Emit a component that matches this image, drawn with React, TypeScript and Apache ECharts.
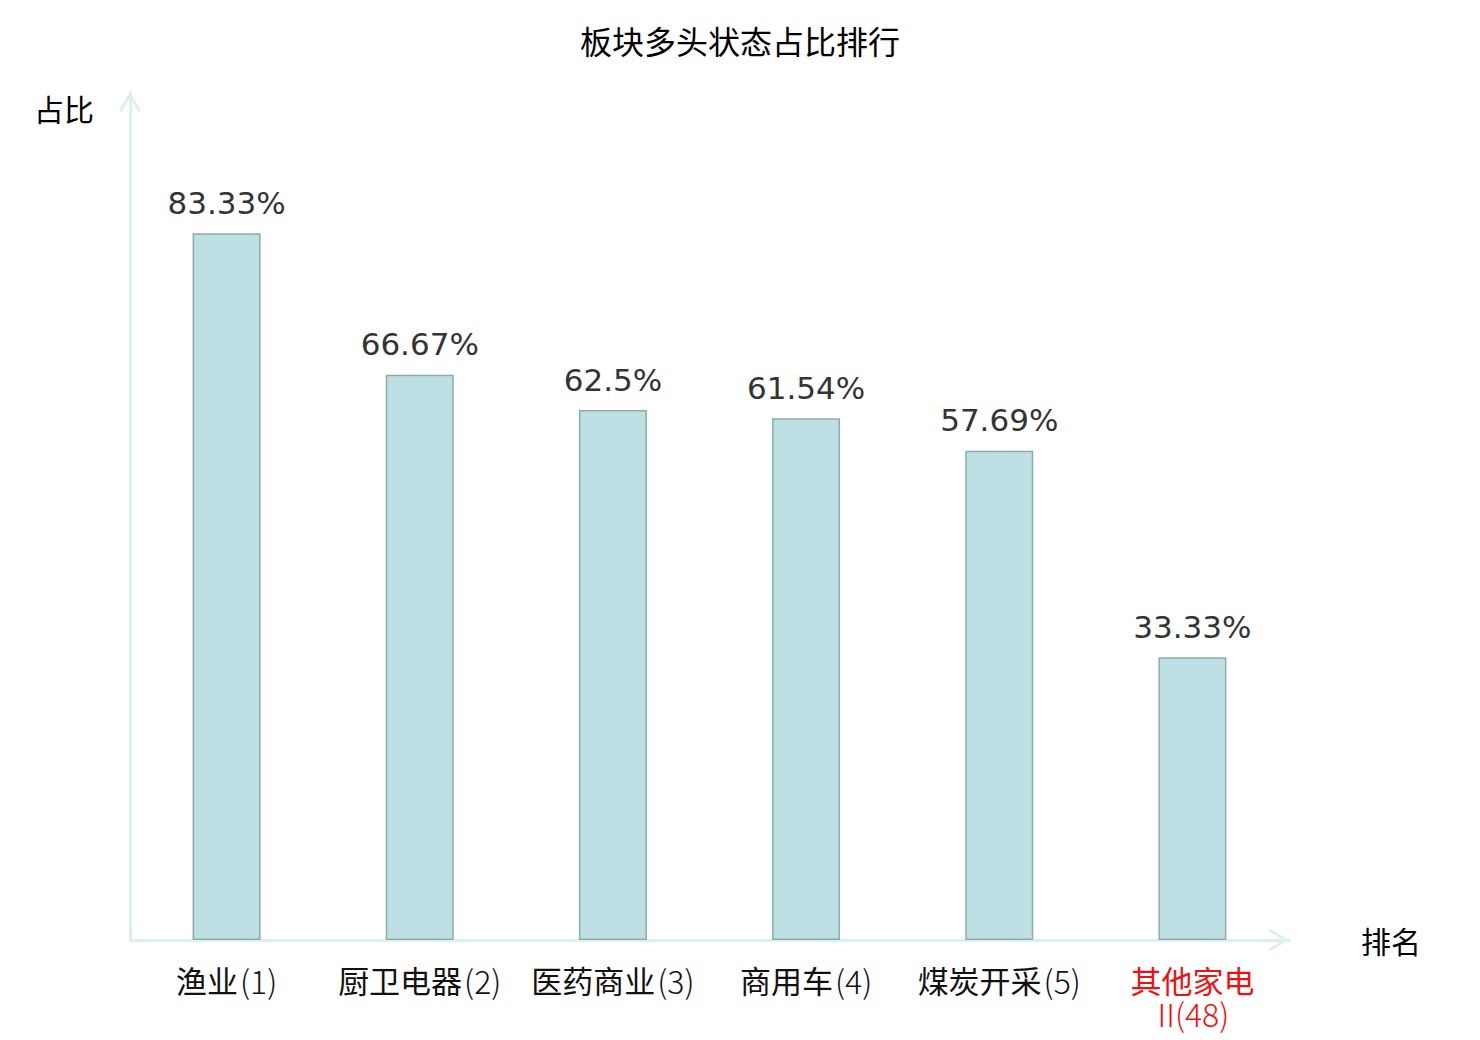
import React, { useEffect, useRef } from "react";
import * as echarts from "echarts";

const categories = ["渔业", "厨卫电器", "医药商业", "商用车", "煤炭开采", "其他家电II"];
const ranks = [1, 2, 3, 4, 5, 48];
const values = [83.33, 66.67, 62.5, 61.54, 57.69, 33.33];
const highlightIndex = 5;
const titleText = "板块多头状态占比排行";
const yName = "占比";
const xName = "排名";

const axisColor = "#dcf1ee";
const chevron = "path://M0,18.5 L11,0 L22,18.5 L19.5,20 L11,5.5 L2.5,20 Z";

function richLabel(name: string, rank: number): string {
  const head = name.length > 5 ? name.slice(0, 4) : name;
  const tail = name.length > 5 ? name.slice(4) : "";
  const rankText = tail + "(" + rank + ")";
  if (tail) return "{n|" + head + "}\n{r|" + rankText + "}";
  return "{n|" + head + "}{r|" + rankText + "}";
}

export default function App() {
  const ref = useRef<HTMLDivElement>(null);
  useEffect(() => {
    if (!ref.current) return;
    const chart = echarts.init(ref.current, null, { renderer: "svg" });
    const cjk = "'Noto Sans CJK SC', sans-serif";
    chart.setOption({
      animation: false,
      backgroundColor: "#ffffff",
      title: {
        text: titleText,
        left: "center",
        top: 24,
        padding: 0,
        textStyle: { fontSize: 32, fontWeight: "normal", color: "#000", fontFamily: cjk, lineHeight: 32 },
      },
      grid: { left: 130, right: 191, top: 92, bottom: 100, containLabel: false },
      xAxis: {
        type: "category",
        data: categories.map((c, i) => ({
          value: c,
          textStyle: i === highlightIndex ? { color: "#ee1111" } : undefined,
        })),
        name: xName,
        nameLocation: "end",
        nameGap: 72,
        nameTextStyle: { fontSize: 30, color: "#000", fontFamily: cjk, verticalAlign: "middle" },
        axisLine: {
          show: true,
          lineStyle: { color: axisColor, width: 3 },
          symbol: ["none", chevron],
          symbolSize: [22, 20],
          symbolOffset: [0, -10],
        },
        axisTick: { show: false },
        axisLabel: {
          margin: 23,
          fontSize: 31,
          lineHeight: 33,
          color: "#111",
          fontFamily: cjk,
          interval: 0,
          formatter: (name: string) => {
            const idx = categories.indexOf(name);
            return richLabel(name, ranks[idx]);
          },
          rich: {
            n: { fontSize: 31, lineHeight: 33, fontFamily: cjk, fontWeight: "normal" },
            r: { fontSize: 32, lineHeight: 33, fontFamily: cjk, fontWeight: 300, padding: [0, 0, 0, 2] },
          },
        },
        splitLine: { show: false },
      },
      yAxis: {
        type: "value",
        min: 0,
        max: 100,
        name: yName,
        nameLocation: "end",
        nameGap: -16,
        nameTextStyle: {
          fontSize: 30,
          color: "#000",
          fontFamily: cjk,
          align: "right",
          verticalAlign: "middle",
          padding: [0, 36, 0, 0],
        },
        axisLine: {
          show: true,
          lineStyle: { color: axisColor, width: 3 },
          symbol: ["none", chevron],
          symbolSize: [22, 20],
          symbolOffset: [0, -10],
        },
        axisTick: { show: false },
        axisLabel: { show: false },
        splitLine: { show: false },
      },
      series: [
        {
          type: "bar",
          data: values,
          barWidth: 68,
          itemStyle: { color: "#bce0e3", borderColor: "#8fabad", borderWidth: 1.5 },
          label: {
            show: true,
            position: "top",
            distance: 15,
            fontSize: 31,
            fontFamily: "'DejaVu Sans', sans-serif",
            color: "#333",
            formatter: (p: any) => p.value + "%",
          },
        },
      ],
    });
    return () => chart.dispose();
  }, []);
  return (
    <div
      ref={ref}
      style={{ position: "absolute", left: 0, top: 0, width: 1480, height: 1040 }}
    />
  );
}
